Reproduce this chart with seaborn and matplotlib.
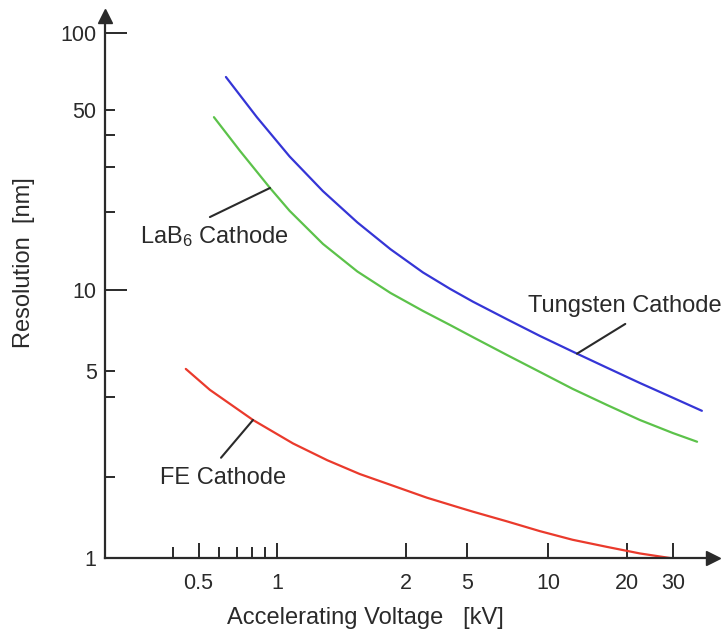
import numpy as np
import pandas as pd
import matplotlib
matplotlib.use('Agg')  # no display in the sandbox
import matplotlib.pyplot as plt
from matplotlib.ticker import FixedLocator, FixedFormatter, NullFormatter
import seaborn as sns

# resolution curves (kV -> nm)
tungsten_kv = [0.637, 0.837, 1.07, 1.28, 1.54, 1.84, 2.58, 3.88, 5.26, 7.05, 9.33, 12.9, 16.8, 22.4, 30.0, 38.7]
tungsten_nm = [67.3, 46.9, 33.0, 24.2, 18.3, 14.4, 11.7, 10.1, 9.05, 7.78, 6.75, 5.80, 5.14, 4.51, 3.97, 3.55]

lab6_kv = [0.573, 0.721, 0.940, 1.07, 1.28, 1.54, 1.84, 2.58, 3.88, 5.26, 7.05, 9.33, 12.4, 16.8, 22.4, 30.0, 37.1]
lab6_nm = [46.9, 34.7, 24.9, 20.3, 15.1, 11.8, 9.75, 8.36, 7.41, 6.68, 5.73, 4.96, 4.29, 3.73, 3.28, 2.93, 2.72]

fe_kv = [0.447, 0.553, 0.809, 1.09, 1.31, 1.56, 1.87, 2.74, 4.51, 5.26, 7.05, 9.33, 12.4, 16.8, 22.4, 29.2]
fe_nm = [5.09, 4.25, 3.28, 2.68, 2.32, 2.06, 1.86, 1.68, 1.54, 1.49, 1.37, 1.26, 1.17, 1.10, 1.04, 1.0]

cathodes = ["Tungsten Cathode", "LaB$_6$ Cathode", "FE Cathode"]
colors = ["#3535d6", "#5cc24a", "#ea3a2c"]

x_ticks = [0.5, 1, 2, 5, 10, 20, 30]
x_minor = [0.4, 0.6, 0.7, 0.8, 0.9]
y_ticks = [1, 10, 100]
y_minor = [2, 4, 5, 20, 30, 40, 50]
y_minor_labels = ["", "", "5", "", "", "", "50"]

# the original axes are hand drawn, the spacing is only roughly logarithmic,
# so map values through the tick positions measured on the picture (pixels)
X_ANCHOR = np.log10([0.1, 0.5, 1, 2, 5, 10, 20, 30, 100])
X_PIX = np.array([16.0, 198.5, 277, 406, 467, 548, 627, 673, 809.5])
Y_ANCHOR = np.log10([0.1, 1, 5, 10, 50, 100, 1000])
Y_PIX = -np.array([826.0, 558, 371, 290, 110, 33, -224])


def x_fwd(v):
    return np.interp(np.log10(np.clip(v, 1e-9, None)), X_ANCHOR, X_PIX)


def x_inv(p):
    return 10 ** np.interp(p, X_PIX, X_ANCHOR)


def y_fwd(v):
    return np.interp(np.log10(np.clip(v, 1e-9, None)), Y_ANCHOR, Y_PIX)


def y_inv(p):
    return 10 ** np.interp(p, Y_PIX, Y_ANCHOR)


df = pd.concat([
    pd.DataFrame({"kV": tungsten_kv, "nm": tungsten_nm, "cathode": cathodes[0]}),
    pd.DataFrame({"kV": lab6_kv, "nm": lab6_nm, "cathode": cathodes[1]}),
    pd.DataFrame({"kV": fe_kv, "nm": fe_nm, "cathode": cathodes[2]}),
], ignore_index=True)

sns.set_theme(style="white")
plt.rcParams['font.family'] = ['Liberation Sans', 'DejaVu Sans']
plt.rcParams['mathtext.default'] = 'regular'
ink = "#2a2a2a"

W, H = 724, 638
fig = plt.figure(figsize=(W / 100, H / 100), dpi=100)
left, right, top, bottom = 105, 713, 16, 558
ax = fig.add_axes([left / W, 1 - bottom / H, (right - left) / W, (bottom - top) / H])

sns.lineplot(data=df, x="kV", y="nm", hue="cathode", palette=colors, hue_order=cathodes,
             sort=False, estimator=None, legend=False, linewidth=1.6, ax=ax)

ax.set_xscale("function", functions=(x_fwd, x_inv))
ax.set_yscale("function", functions=(y_fwd, y_inv))
ax.set_xlim(x_inv(left), x_inv(right))
ax.set_ylim(1, y_inv(-top))

ax.xaxis.set_major_locator(FixedLocator(x_ticks))
ax.xaxis.set_major_formatter(FixedFormatter([f"{v:g}" for v in x_ticks]))
ax.xaxis.set_minor_locator(FixedLocator(x_minor))
ax.xaxis.set_minor_formatter(NullFormatter())
ax.yaxis.set_major_locator(FixedLocator(y_ticks))
ax.yaxis.set_major_formatter(FixedFormatter([str(v) for v in y_ticks]))
ax.yaxis.set_minor_locator(FixedLocator(y_minor))
ax.yaxis.set_minor_formatter(FixedFormatter(y_minor_labels))

ax.tick_params(axis="y", which="major", direction="in", length=16, width=1.4, color=ink,
               pad=6, labelsize=15.5, labelcolor=ink, left=True)
ax.tick_params(axis="y", which="minor", direction="in", length=7.5, width=1.4, color=ink,
               pad=6, labelsize=15.5, labelcolor=ink, left=True)
ax.tick_params(axis="x", which="major", direction="in", length=10.5, width=1.4, color=ink,
               pad=11, labelsize=15.5, labelcolor=ink, bottom=True)
ax.tick_params(axis="x", which="minor", direction="in", length=8, width=1.4, color=ink, bottom=True)

sns.despine(ax=ax)
for side in ["left", "bottom"]:
    ax.spines[side].set_color(ink)
    ax.spines[side].set_linewidth(1.6)

# arrow heads on both axes
ax.plot([0], [1], marker="^", ms=10, color=ink, transform=ax.transAxes, clip_on=False)
ax.plot([1], [0], marker=">", ms=10, color=ink, transform=ax.transAxes, clip_on=False)

ax.set_xlabel("Accelerating Voltage   [kV]", fontsize=17, color=ink, va="center")
ax.set_ylabel("Resolution  [nm]", fontsize=17, color=ink, va="center")
ax.xaxis.set_label_coords((365 - left) / (right - left), -(618 - bottom) / (bottom - top))
ax.yaxis.set_label_coords((24 - left) / (right - left), (bottom - 263) / (bottom - top))

# curve labels with leader lines
leader = dict(arrowstyle="-", color=ink, lw=1.5, shrinkA=0, shrinkB=0)
ax.annotate("", xy=(0.94, 24.9), xytext=(0.553, 19.2), arrowprops=leader)
ax.text(0.578, 16.1, cathodes[1], fontsize=17, color=ink, ha="center", va="center")
ax.annotate("", xy=(12.9, 5.80), xytext=(19.7, 7.48), arrowprops=leader)
ax.text(19.6, 8.72, cathodes[0], fontsize=17, color=ink, ha="center", va="center")
ax.annotate("", xy=(0.809, 3.28), xytext=(0.610, 2.37), arrowprops=leader)
ax.text(0.621, 1.99, cathodes[2], fontsize=17, color=ink, ha="center", va="center")

fig.savefig("out.png", dpi=100)
